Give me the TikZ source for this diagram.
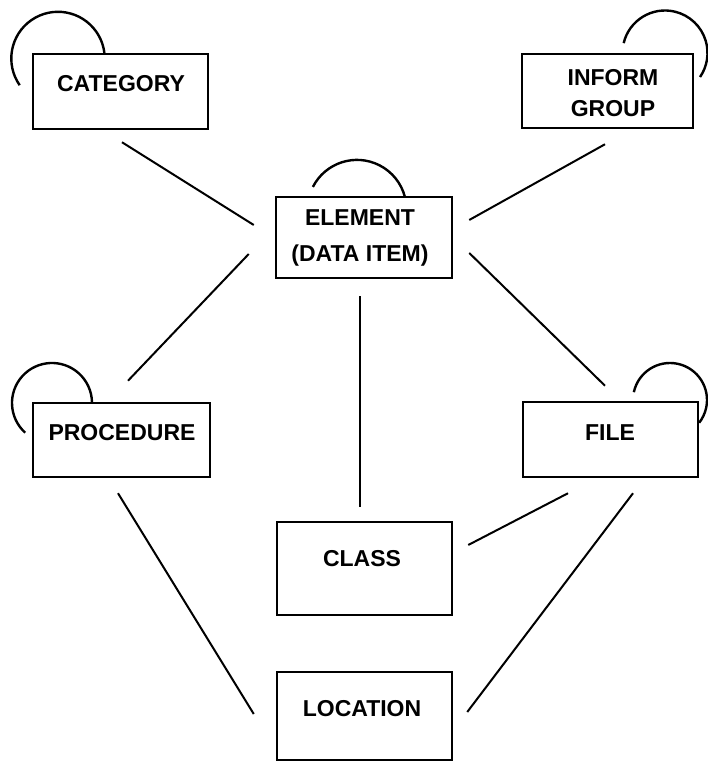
\documentclass[tikz,border=0pt]{standalone}
\usepackage{fontspec}
\setmainfont{Liberation Sans}
\begin{document}
\begin{tikzpicture}[x=1pt,y=1pt,
  entity/.style={draw, line width=2.5pt, inner sep=0pt},
  caption/.style={anchor=north, inner sep=0pt, align=center,
    font=\bfseries\fontsize{23}{33}\selectfont},
  link/.style={line width=2pt},
  loop/.style={line width=2.4pt}]
\useasboundingbox (0,0) rectangle (708,763);

% entity boxes
\node[entity, minimum width=175pt, minimum height=75pt] (cat)  at (120.5,671.5) {};
\node[entity, minimum width=171pt, minimum height=74pt] (inf)  at (607.5,672)   {};
\node[entity, minimum width=176pt, minimum height=81pt] (el)   at (364,525.5)   {};
\node[entity, minimum width=177pt, minimum height=74pt] (proc) at (121.5,323)   {};
\node[entity, minimum width=175pt, minimum height=75pt] (file) at (610.5,323.5) {};
\node[entity, minimum width=175pt, minimum height=93pt] (cls)  at (364.5,194.5) {};
\node[entity, minimum width=175pt, minimum height=88pt] (loc)  at (364.5,47)    {};

% entity names
\node[caption] (tcat)  at (121,688) {CATEGORY};
\node[caption, font=\bfseries\fontsize{23}{31}\selectfont] (tinf) at (613,694) {INFORM\\GROUP};
\node[caption, font=\bfseries\fontsize{23}{36}\selectfont] (tel)  at (360,554) {ELEMENT\\(DATA ITEM)};
\node[caption] (tproc) at (122,339) {PROCEDURE};
\node[caption] (tfile) at (610,339) {FILE};
\node[caption] (tcls)  at (362,213) {CLASS};
\node[caption] (tloc)  at (362,63)  {LOCATION};

% recursive relationships
\draw[loop] (58,704.5) ++(214.9:46.7) arc[start angle=214.9, end angle=5.5, radius=46.7];
\draw[loop] (665,710) ++(166.6:42.5) arc[start angle=166.6, end angle=-34.4, radius=42.5];
\draw[loop] (357,553.6) ++(153:49.5) arc[start angle=153, end angle=14.5, radius=49.5];
\draw[loop] (52,360) ++(228:40) arc[start angle=228, end angle=1.5, radius=40];
\draw[loop] (670,363) ++(167.8:37) arc[start angle=167.8, end angle=-38, radius=37];

% relationships
\draw[link] ([shift={(1.5,-12)}]cat.south)   -- ([shift={(-21,12.5)}]el.west);
\draw[link] ([shift={(-2.5,-15)}]inf.south)  -- ([shift={(16,17.5)}]el.east);
\draw[link] ([shift={(-26,-16.5)}]el.west)   -- ([shift={(6.5,21)}]proc.north);
\draw[link] ([shift={(16,-15.5)}]el.east)    -- ([shift={(-5.5,15)}]file.north);
\draw[link] ([shift={(-4,-17)}]el.south)     -- ([shift={(-4.5,14)}]cls.north);
\draw[link] ([shift={(15,23.5)}]cls.east)    -- ([shift={(-42.5,-15)}]file.south);
\draw[link] ([shift={(22.5,-15)}]file.south) -- ([shift={(14,4)}]loc.east);
\draw[link] ([shift={(-3.5,-15)}]proc.south) -- ([shift={(-22,2)}]loc.west);
\end{tikzpicture}
\end{document}
